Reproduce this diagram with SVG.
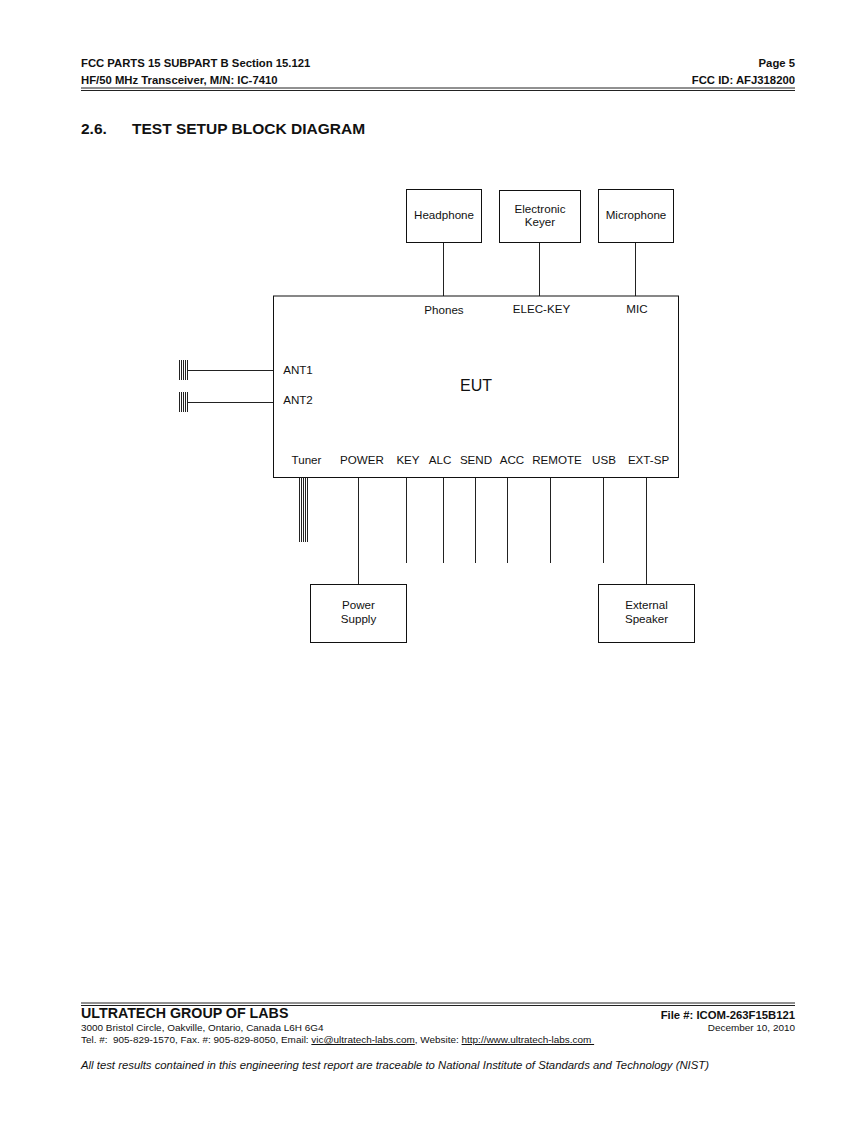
<svg xmlns="http://www.w3.org/2000/svg" width="866" height="1122" viewBox="0 0 866 1122">
<style>
text{font-family:"Liberation Sans",Arial,sans-serif;fill:#111}
.h{font-size:11.3px;font-weight:bold}
.l{font-size:11.6px;text-anchor:middle}
.f{font-size:9.95px}
.n{fill:#fff;stroke:#111;stroke-width:1}
.c line{stroke:#222;stroke-width:1}
.r line{stroke:#222}
</style>
<rect width="866" height="1122" fill="#fff"/>
<g id="header">
<text class="h" x="81" y="67">FCC PARTS 15 SUBPART B Section 15.121</text>
<text class="h" x="81" y="84">HF/50 MHz Transceiver, M/N: IC-7410</text>
<text class="h" x="795" y="67" text-anchor="end">Page 5</text>
<text class="h" x="795" y="84" text-anchor="end">FCC ID: AFJ318200</text>
<g class="r"><line x1="81" x2="795" y1="88" y2="88" stroke-width="1"/><line x1="81" x2="795" y1="90.5" y2="90.5" stroke-width="1"/></g>
<text x="81" y="134" font-size="15.5" font-weight="bold">2.6.</text>
<text x="132" y="134" font-size="15.5" font-weight="bold">TEST SETUP BLOCK DIAGRAM</text>
</g>
<g class="c" id="connectors">
<line x1="443.500" y1="243" x2="443.500" y2="296"/>
<line x1="539.500" y1="243" x2="539.500" y2="296"/>
<line x1="635.500" y1="243" x2="635.500" y2="296"/>
<line x1="187" y1="370.500" x2="273" y2="370.500"/>
<line x1="187" y1="402.500" x2="273" y2="402.500"/>
<line x1="179.500" y1="360" x2="179.500" y2="380"/><line x1="181.500" y1="360" x2="181.500" y2="380"/><line x1="183.500" y1="360" x2="183.500" y2="380"/><line x1="185.500" y1="360" x2="185.500" y2="380"/><line x1="187.500" y1="360" x2="187.500" y2="380"/>
<line x1="179.500" y1="392" x2="179.500" y2="412"/><line x1="181.500" y1="392" x2="181.500" y2="412"/><line x1="183.500" y1="392" x2="183.500" y2="412"/><line x1="185.500" y1="392" x2="185.500" y2="412"/><line x1="187.500" y1="392" x2="187.500" y2="412"/>
<line x1="299.500" y1="477" x2="299.500" y2="542"/><line x1="301.500" y1="477" x2="301.500" y2="542"/><line x1="303.500" y1="477" x2="303.500" y2="542"/><line x1="305.500" y1="477" x2="305.500" y2="542"/><line x1="307.500" y1="477" x2="307.500" y2="542"/>
<line x1="358.500" y1="477" x2="358.500" y2="584"/>
<line x1="406.500" y1="477" x2="406.500" y2="563"/>
<line x1="443.500" y1="477" x2="443.500" y2="563"/>
<line x1="475.500" y1="477" x2="475.500" y2="563"/>
<line x1="507.500" y1="477" x2="507.500" y2="563"/>
<line x1="550.500" y1="477" x2="550.500" y2="563"/>
<line x1="603.500" y1="477" x2="603.500" y2="563"/>
<line x1="646.500" y1="477" x2="646.500" y2="584"/>
</g>
<g id="headphone"><rect class="n" x="406.500" y="189.500" width="75" height="53"/><text class="l" x="444" y="219">Headphone</text></g>
<g id="keyer"><rect class="n" x="499.500" y="190.500" width="81" height="52"/><text class="l" x="540" y="213">Electronic</text><text class="l" x="540" y="226">Keyer</text></g>
<g id="microphone"><rect class="n" x="598.500" y="189.500" width="75" height="53"/><text class="l" x="636" y="219">Microphone</text></g>
<g id="eut"><rect class="n" x="273.500" y="296" width="405" height="181.500"/>
<text x="476" y="391" font-size="16" text-anchor="middle">EUT</text>
<text class="l" x="444" y="314">Phones</text><text class="l" x="541.500" y="313">ELEC-KEY</text><text class="l" x="637" y="313">MIC</text>
<text class="l" x="298" y="374">ANT1</text><text class="l" x="298" y="404">ANT2</text>
<text class="l" x="306.500" y="464">Tuner</text><text class="l" x="362" y="464">POWER</text><text class="l" x="408" y="464">KEY</text><text class="l" x="440" y="464">ALC</text><text class="l" x="476" y="464">SEND</text><text class="l" x="512" y="464">ACC</text><text class="l" x="557" y="464">REMOTE</text><text class="l" x="604" y="464">USB</text><text class="l" x="648.500" y="464">EXT-SP</text></g>
<g id="power-supply"><rect class="n" x="310.500" y="584.500" width="96" height="58"/><text class="l" x="358.500" y="609">Power</text><text class="l" x="358.500" y="623">Supply</text></g>
<g id="external-speaker"><rect class="n" x="598.500" y="584.500" width="96" height="58"/><text class="l" x="646.500" y="609">External</text><text class="l" x="646.500" y="623">Speaker</text></g>
<g id="footer">
<g class="r"><line x1="81" x2="795" y1="1003" y2="1003" stroke-width="1"/><line x1="81" x2="795" y1="1005.500" y2="1005.500" stroke-width="1"/></g>
<text x="81" y="1018" font-size="14.250" font-weight="bold">ULTRATECH GROUP OF LABS</text>
<text class="h" x="795" y="1019" text-anchor="end">File #: ICOM-263F15B121</text>
<text class="f" x="81" y="1031">3000 Bristol Circle, Oakville, Ontario, Canada L6H 6G4</text>
<text class="f" x="795" y="1031" text-anchor="end">December 10, 2010</text>
<text class="f" x="81" y="1043" xml:space="preserve">Tel. #:  905-829-1570, Fax. #: 905-829-8050, Email: <tspan text-decoration="underline">vic@ultratech-labs.com</tspan>, Website: <tspan text-decoration="underline">http://www.ultratech-labs.com </tspan></text>
<text x="81" y="1069" font-size="11.340" font-style="italic">All test results contained in this engineering test report are traceable to National Institute of Standards and Technology (NIST)</text>
</g>
</svg>
